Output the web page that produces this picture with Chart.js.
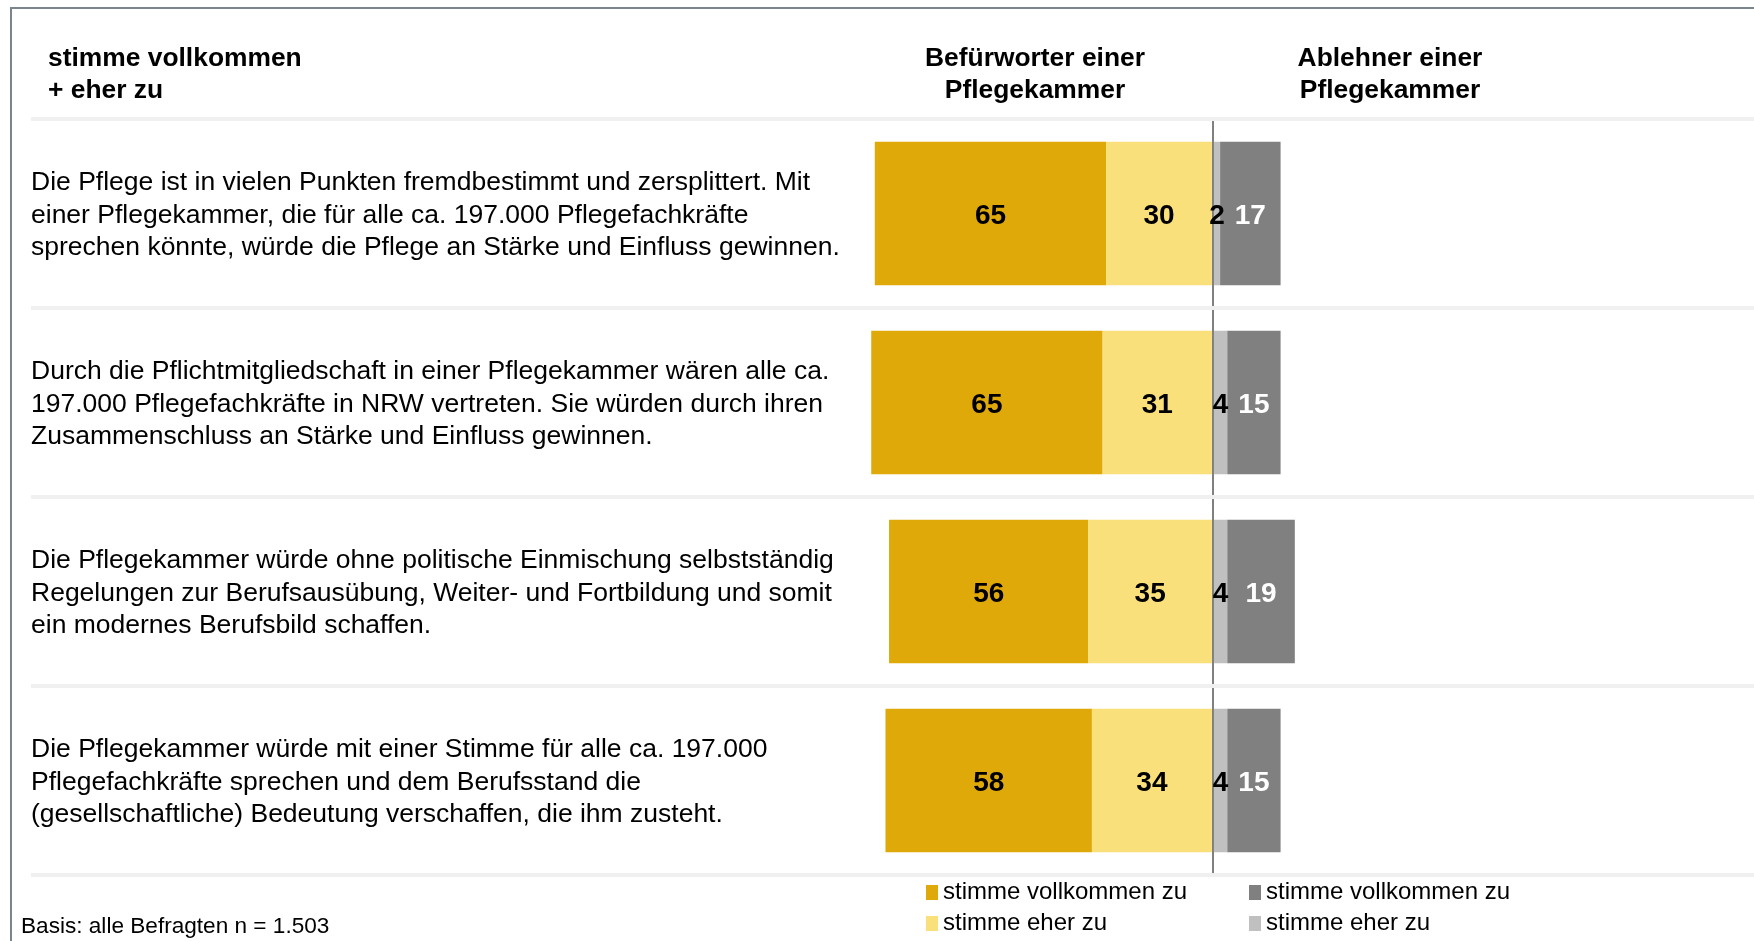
<!DOCTYPE html>
<html>
<head>
<meta charset="utf-8">
<script src="https://cdn.jsdelivr.net/npm/chart.js@4.4.1/dist/chart.umd.min.js"></script>
<style>
  body { margin: 0; background: #fff; font-family: "Liberation Sans", Arial, sans-serif; color: #000; }
  #wrap { position: relative; width: 1754px; height: 941px; overflow: hidden; }
  #frame { position: absolute; left: 10px; top: 7px; right: -10px; bottom: -10px;
           border-top: 2px solid #7b858c; border-left: 2px solid #7b858c; }
  canvas { position: absolute; left: 0; top: 0; }
  .head { position: absolute; top: 41px; font-weight: bold; font-size: 26.4px; line-height: 32.4px; }
  .center { text-align: center; width: 320px; }
  #legend { position: absolute; left: 926px; top: 875px; display: grid;
            grid-template-columns: 323px auto; row-gap: 0; font-size: 24px; line-height: 31px; }
  #legend span { display: inline-block; width: 12px; height: 15px; margin-right: 5px; vertical-align: -1px; }
  #note { position: absolute; left: 21px; top: 913px; font-size: 22.6px; }
</style>
</head>
<body>
<div id="wrap">
  <div id="frame"></div>
  <canvas id="chart" width="1754" height="941"></canvas>
  <div class="head" style="left:48px;">stimme vollkommen<br>+ eher zu</div>
  <div class="head center" style="left:875px;">Befürworter einer<br>Pflegekammer</div>
  <div class="head center" style="left:1230px;">Ablehner einer<br>Pflegekammer</div>
  <div id="legend"></div>
  <div id="note">Basis: alle Befragten n = 1.503</div>
</div>
<script>
// Statements (one array of lines per row)
const statements = [
  ["Die Pflege ist in vielen Punkten fremdbestimmt und zersplittert. Mit",
   "einer Pflegekammer, die für alle ca. 197.000 Pflegefachkräfte",
   "sprechen könnte, würde die Pflege an Stärke und Einfluss gewinnen."],
  ["Durch die Pflichtmitgliedschaft in einer Pflegekammer wären alle ca.",
   "197.000 Pflegefachkräfte in NRW vertreten. Sie würden durch ihren",
   "Zusammenschluss an Stärke und Einfluss gewinnen."],
  ["Die Pflegekammer würde ohne politische Einmischung selbstständig",
   "Regelungen zur Berufsausübung, Weiter- und Fortbildung und somit",
   "ein modernes Berufsbild schaffen."],
  ["Die Pflegekammer würde mit einer Stimme für alle ca. 197.000",
   "Pflegefachkräfte sprechen und dem Berufsstand die",
   "(gesellschaftliche) Bedeutung verschaffen, die ihm zusteht."]
];

// Befürworter (drawn to the left)
const proFull = [65, 65, 56, 58];
const proPartly = [30, 31, 35, 34];
// Ablehner (drawn to the right)
const contraPartly = [2, 4, 4, 4];
const contraFull = [17, 15, 19, 15];

const colors = {
  proFull: "#E0A90A",
  proPartly: "#F9E07A",
  contraPartly: "#C0C0C0",
  contraFull: "#808080"
};

// legend: two columns, pro left, contra right
const legendItems = [
  ["stimme vollkommen zu", colors.proFull],
  ["stimme vollkommen zu", colors.contraFull],
  ["stimme eher zu", colors.proPartly],
  ["stimme eher zu", colors.contraPartly]
];
document.getElementById("legend").innerHTML = legendItems
  .map(([t, c]) => `<div><span style="background:${c}"></span>${t}</div>`).join("");

// value labels in the middle of each segment
const valueLabels = {
  id: "valueLabels",
  afterDatasetsDraw(chart) {
    const ctx = chart.ctx;
    ctx.save();
    ctx.font = "bold 28px 'Liberation Sans', Arial, sans-serif";
    ctx.textAlign = "center";
    ctx.textBaseline = "middle";
    chart.data.datasets.forEach((ds, i) => {
      const meta = chart.getDatasetMeta(i);
      meta.data.forEach((bar, j) => {
        const v = Math.abs(ds.data[j]);
        ctx.fillStyle = ds.labelColor;
        ctx.fillText(String(v), (bar.x + bar.base) / 2, bar.y + 3);
      });
    });
    ctx.restore();
  }
};

new Chart(document.getElementById("chart"), {
  type: "bar",
  data: {
    labels: statements,
    datasets: [
      { label: "Befürworter: stimme eher zu", data: proPartly.map(v => -v),
        backgroundColor: colors.proPartly, labelColor: "#000" },
      { label: "Befürworter: stimme vollkommen zu", data: proFull.map(v => -v),
        backgroundColor: colors.proFull, labelColor: "#000" },
      { label: "Ablehner: stimme eher zu", data: contraPartly,
        backgroundColor: colors.contraPartly, labelColor: "#000" },
      { label: "Ablehner: stimme vollkommen zu", data: contraFull,
        backgroundColor: colors.contraFull, labelColor: "#fff" }
    ]
  },
  options: {
    indexAxis: "y",
    responsive: false,
    devicePixelRatio: 1,
    animation: false,
    layout: { padding: { left: 31, top: 119, right: 0, bottom: 66 } },
    datasets: { bar: { barPercentage: 0.76, categoryPercentage: 1 } },
    plugins: { legend: { display: false }, tooltip: { enabled: false } },
    scales: {
      x: {
        stacked: true,
        min: -100,
        max: 152,
        z: 1,
        afterBuildTicks: s => { s.ticks = [{ value: 0 }]; },
        ticks: { display: false },
        border: { display: false },
        grid: { color: "#808080", lineWidth: 2, drawTicks: false }
      },
      y: {
        stacked: true,
        afterFit: s => { s.width = 826; },
        border: { display: false },
        grid: { color: "#f0f0f0", lineWidth: 4, tickLength: 826 },
        ticks: {
          crossAlign: "far",
          autoSkip: false,
          labelOffset: 2,
          color: "#000",
          font: { family: "'Liberation Sans', Arial, sans-serif", size: 26.5, lineHeight: 1.225 }
        }
      }
    }
  },
  plugins: [valueLabels]
});
</script>
</body>
</html>
